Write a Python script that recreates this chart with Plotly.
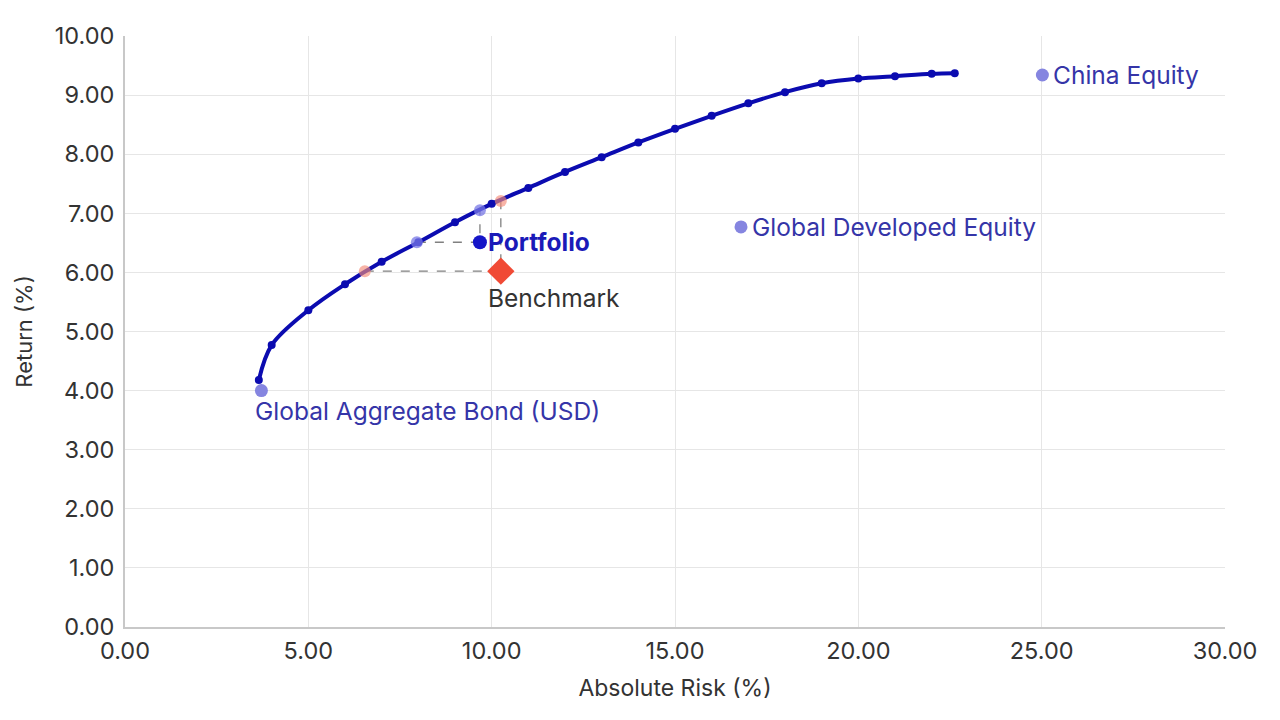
import plotly.graph_objects as go

# Efficient frontier
frontier_risk = [3.65, 4.0, 5.0, 6.0, 7.0, 8.0, 9.0, 10.0, 11.0, 12.0, 13.0, 14.0, 15.0,
                 16.0, 17.0, 18.0, 19.0, 20.0, 21.0, 22.0, 22.63]
frontier_return = [4.18, 4.77, 5.36, 5.80, 6.18, 6.51, 6.85, 7.16, 7.43, 7.70, 7.95, 8.20, 8.43,
                   8.65, 8.86, 9.05, 9.20, 9.28, 9.32, 9.36, 9.37]

# Assets
asset_names = ["Global Aggregate Bond (USD)", "Global Developed Equity", "China Equity"]
asset_risk = [3.72, 16.8, 25.02]
asset_return = [4.00, 6.77, 9.34]

# Portfolio & benchmark
portfolio_risk, portfolio_return = 9.68, 6.51
benchmark_risk, benchmark_return = 10.25, 6.02

# Frontier reference points
pf_same_risk = (9.68, 7.05)     # frontier point at portfolio risk
pf_same_return = (7.96, 6.51)   # frontier point at portfolio return
bm_same_risk = (10.25, 7.21)
bm_same_return = (6.54, 6.02)

x_ticks = [0, 5, 10, 15, 20, 25, 30]
y_ticks = [0, 1, 2, 3, 4, 5, 6, 7, 8, 9, 10]

FONT = "Inter"
BLUE = "#0b0bb0"
LABEL_BLUE = "#3535a8"

fig = go.Figure()

# dashed guide lines
dash = dict(color="#808080", width=1.3, dash="dash")
fig.add_trace(go.Scatter(x=[pf_same_return[0], portfolio_risk, pf_same_risk[0]],
                         y=[pf_same_return[1], portfolio_return, pf_same_risk[1]],
                         mode="lines", line=dash, hoverinfo="skip"))
fig.add_trace(go.Scatter(x=[bm_same_return[0], benchmark_risk, bm_same_risk[0]],
                         y=[bm_same_return[1], benchmark_return, bm_same_risk[1]],
                         mode="lines", line=dash, hoverinfo="skip"))

# frontier
fig.add_trace(go.Scatter(x=frontier_risk, y=frontier_return, mode="lines+markers",
                         line=dict(color=BLUE, width=4, shape="spline", smoothing=1.0),
                         marker=dict(color=BLUE, size=8)))

# highlight points on frontier
fig.add_trace(go.Scatter(x=[pf_same_risk[0], pf_same_return[0]], y=[pf_same_risk[1], pf_same_return[1]],
                         mode="markers", marker=dict(color="rgba(120,120,230,0.75)", size=12)))
fig.add_trace(go.Scatter(x=[bm_same_risk[0], bm_same_return[0]], y=[bm_same_risk[1], bm_same_return[1]],
                         mode="markers", marker=dict(color="rgba(245,140,120,0.65)", size=12)))

# assets
fig.add_trace(go.Scatter(x=asset_risk, y=asset_return, mode="markers",
                         marker=dict(color="#8585e0", size=13)))

# portfolio & benchmark
fig.add_trace(go.Scatter(x=[portfolio_risk], y=[portfolio_return], mode="markers",
                         marker=dict(color="#1515c8", size=14)))
fig.add_trace(go.Scatter(x=[benchmark_risk], y=[benchmark_return], mode="markers",
                         marker=dict(color="#f04a35", size=21, symbol="diamond")))

LS = 24.5
annotations = []
annotations.append(dict(x=asset_risk[0], y=asset_return[0], text=asset_names[0], xanchor="left",
                        yanchor="middle", xshift=-8, yshift=-20,
                        font=dict(family=FONT, size=LS, color=LABEL_BLUE), showarrow=False))
for i in (1, 2):
    annotations.append(dict(x=asset_risk[i], y=asset_return[i], text=asset_names[i], xanchor="left",
                            yanchor="middle", xshift=9,
                            font=dict(family=FONT, size=LS, color=LABEL_BLUE), showarrow=False))
annotations.append(dict(x=portfolio_risk, y=portfolio_return, text="<b>Portfolio</b>", xanchor="left",
                        yanchor="middle", xshift=6,
                        font=dict(family=FONT, size=LS, color="#1a1ab8"), showarrow=False))
annotations.append(dict(x=benchmark_risk, y=benchmark_return, text="Benchmark", xanchor="left",
                        yanchor="middle", xshift=-15, yshift=-27,
                        font=dict(family=FONT, size=LS, color="#333333"), showarrow=False))

# page body has an 8px offset, margins compensate for it
fig.update_layout(
    width=1280, height=720,
    paper_bgcolor="white", plot_bgcolor="white",
    showlegend=False,
    margin=dict(l=117, r=63, t=28, b=101),
    font=dict(family=FONT, color="#333333"),
    annotations=annotations,
    xaxis=dict(range=[0, 30], tickvals=x_ticks, tickformat=".2f", automargin=False,
               showgrid=True, gridcolor="#e6e6e6", gridwidth=1,
               showline=True, linecolor="#c8c8c8", linewidth=2, zeroline=False,
               tickfont=dict(family=FONT, size=23.5, color="#333333"), ticks="",
               ticklabelstandoff=2,
               title=dict(text="Absolute Risk (%)", font=dict(family=FONT, size=23, color="#333333"),
                          standoff=16)),
    yaxis=dict(range=[0, 10], tickvals=y_ticks, tickformat=".2f", automargin=False,
               showgrid=True, gridcolor="#e6e6e6", gridwidth=1,
               showline=True, linecolor="#c8c8c8", linewidth=2, zeroline=False,
               tickfont=dict(family=FONT, size=23.5, color="#333333"), ticks="",
               ticklabelstandoff=4,
               title=dict(text="Return (%)", font=dict(family=FONT, size=22, color="#333333"),
                          standoff=16)),
)

fig.write_html("out.html")
